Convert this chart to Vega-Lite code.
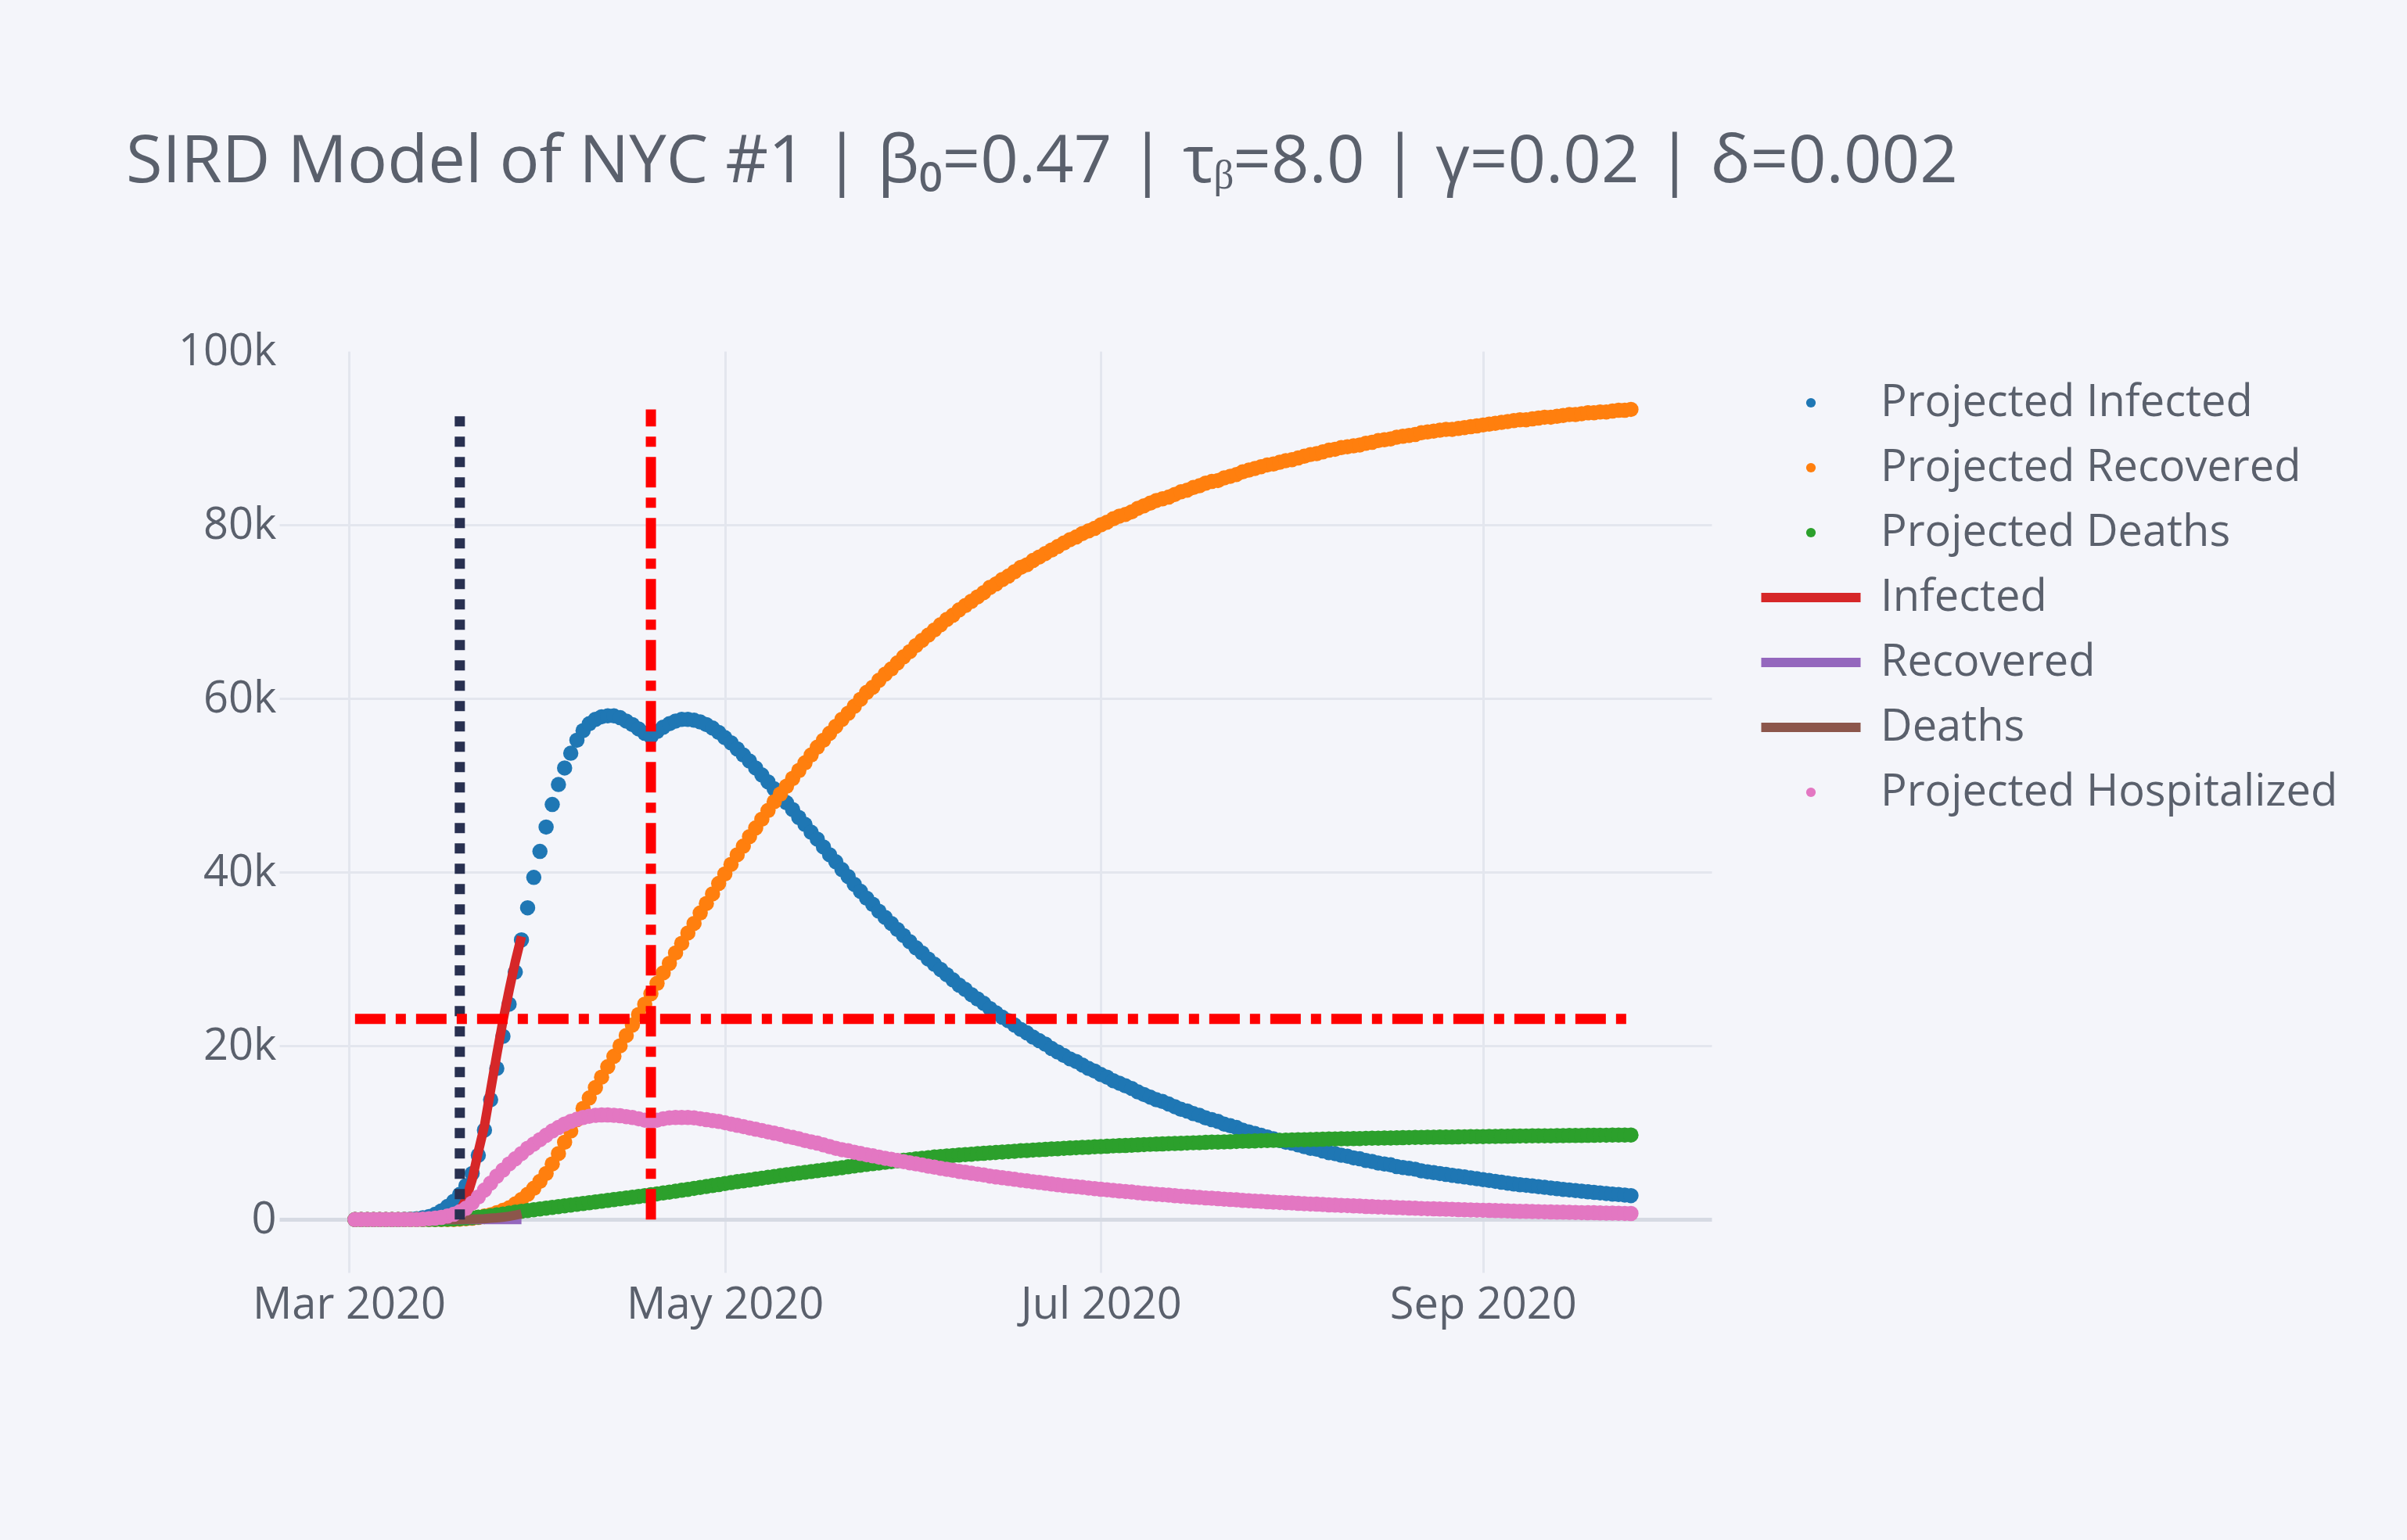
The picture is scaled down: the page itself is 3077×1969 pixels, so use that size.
{
"$schema":"https://vega.github.io/schema/vega-lite/v6.json",
"width":1831,"height":1178,
"autosize":{"type":"none"},
"padding":{"left":357,"top":449,"right":889,"bottom":342},
"background":"#f4f5fa",
"title":{"text":"SIRD Model of NYC #1 | β₀=0.47 | τᵦ=8.0 | γ=0.02 | δ=0.002","anchor":"start","frame":"group","dx":-196,"offset":103,"baseline":"alphabetic","font":"Open Sans","fontSize":85,"fontWeight":"normal","color":"#5a606c"},
"datasets":{"main":[
{"d":"2020-03-02","I":0,"R":0,"D":0,"H":0,"aI":0,"aR":0,"aD":0},
{"d":"2020-03-03","I":0,"R":0,"D":0,"H":0,"aI":0,"aR":0,"aD":0},
{"d":"2020-03-04","I":0,"R":0,"D":0,"H":0,"aI":0,"aR":0,"aD":0},
{"d":"2020-03-05","I":0,"R":0,"D":0,"H":0,"aI":0,"aR":0,"aD":0},
{"d":"2020-03-06","I":0,"R":0,"D":0,"H":0,"aI":0,"aR":0,"aD":0},
{"d":"2020-03-07","I":0,"R":0,"D":0,"H":0,"aI":0,"aR":0,"aD":0},
{"d":"2020-03-08","I":0,"R":0,"D":0,"H":0,"aI":0,"aR":0,"aD":0},
{"d":"2020-03-09","I":0,"R":0,"D":0,"H":0,"aI":0,"aR":0,"aD":0},
{"d":"2020-03-10","I":20,"R":0,"D":0,"H":0,"aI":10,"aR":0,"aD":0},
{"d":"2020-03-11","I":50,"R":0,"D":0,"H":0,"aI":30,"aR":0,"aD":0},
{"d":"2020-03-12","I":100,"R":0,"D":0,"H":0,"aI":50,"aR":0,"aD":0},
{"d":"2020-03-13","I":200,"R":0,"D":0,"H":50,"aI":100,"aR":0,"aD":0},
{"d":"2020-03-14","I":350,"R":0,"D":0,"H":100,"aI":150,"aR":0,"aD":0},
{"d":"2020-03-15","I":600,"R":0,"D":0,"H":150,"aI":250,"aR":0,"aD":0},
{"d":"2020-03-16","I":1000,"R":0,"D":20,"H":250,"aI":350,"aR":0,"aD":0},
{"d":"2020-03-17","I":1500,"R":0,"D":40,"H":400,"aI":500,"aR":0,"aD":0},
{"d":"2020-03-18","I":2100,"R":0,"D":60,"H":600,"aI":700,"aR":0,"aD":0},
{"d":"2020-03-19","I":2900,"R":50,"D":100,"H":900,"aI":1000,"aR":0,"aD":10},
{"d":"2020-03-20","I":3900,"R":100,"D":150,"H":1300,"aI":2300,"aR":0,"aD":30},
{"d":"2020-03-21","I":5300,"R":150,"D":200,"H":1900,"aI":4600,"aR":0,"aD":50},
{"d":"2020-03-22","I":7400,"R":250,"D":270,"H":2600,"aI":7800,"aR":0,"aD":80},
{"d":"2020-03-23","I":10300,"R":400,"D":350,"H":3400,"aI":10800,"aR":0,"aD":100},
{"d":"2020-03-24","I":13800,"R":550,"D":440,"H":4200,"aI":14900,"aR":0,"aD":150},
{"d":"2020-03-25","I":17400,"R":800,"D":540,"H":5000,"aI":19000,"aR":0,"aD":200},
{"d":"2020-03-26","I":21100,"R":1050,"D":640,"H":5700,"aI":22900,"aR":0,"aD":280},
{"d":"2020-03-27","I":24800,"R":1350,"D":740,"H":6400,"aI":26400,"aR":0,"aD":370},
{"d":"2020-03-28","I":28500,"R":1800,"D":850,"H":7000,"aI":29700,"aR":0,"aD":500},
{"d":"2020-03-29","I":32200,"R":2300,"D":950,"H":7600,"aI":32600,"aR":0,"aD":670},
{"d":"2020-03-30","I":35900,"R":2900,"D":1040,"H":8200},
{"d":"2020-03-31","I":39400,"R":3600,"D":1130,"H":8700},
{"d":"2020-04-01","I":42400,"R":4400,"D":1220,"H":9200},
{"d":"2020-04-02","I":45200,"R":5300,"D":1310,"H":9700},
{"d":"2020-04-03","I":47800,"R":6400,"D":1400,"H":10200},
{"d":"2020-04-04","I":50100,"R":7600,"D":1490,"H":10600},
{"d":"2020-04-05","I":52000,"R":8900,"D":1580,"H":11000},
{"d":"2020-04-06","I":53700,"R":10200,"D":1670,"H":11300},
{"d":"2020-04-07","I":55200,"R":11500,"D":1760,"H":11550},
{"d":"2020-04-08","I":56300,"R":12800,"D":1850,"H":11750},
{"d":"2020-04-09","I":57100,"R":14000,"D":1940,"H":11900},
{"d":"2020-04-10","I":57600,"R":15200,"D":2030,"H":12000},
{"d":"2020-04-11","I":57900,"R":16400,"D":2120,"H":12050},
{"d":"2020-04-12","I":58000,"R":17600,"D":2210,"H":12050},
{"d":"2020-04-13","I":58000,"R":18800,"D":2300,"H":12000},
{"d":"2020-04-14","I":57800,"R":20000,"D":2390,"H":11950},
{"d":"2020-04-15","I":57400,"R":21200,"D":2480,"H":11850},
{"d":"2020-04-16","I":57000,"R":22400,"D":2570,"H":11750},
{"d":"2020-04-17","I":56500,"R":23600,"D":2660,"H":11600},
{"d":"2020-04-18","I":56000,"R":24800,"D":2760,"H":11450},
{"d":"2020-04-19","I":55600,"R":26000,"D":2860,"H":11300},
{"d":"2020-04-20","I":56200,"R":27200,"D":2960,"H":11450},
{"d":"2020-04-21","I":56700,"R":28400,"D":3060,"H":11600},
{"d":"2020-04-22","I":57100,"R":29500,"D":3160,"H":11700},
{"d":"2020-04-23","I":57400,"R":30700,"D":3260,"H":11750},
{"d":"2020-04-24","I":57600,"R":31800,"D":3370,"H":11750},
{"d":"2020-04-25","I":57600,"R":33000,"D":3480,"H":11750},
{"d":"2020-04-26","I":57500,"R":34100,"D":3590,"H":11700},
{"d":"2020-04-27","I":57300,"R":35300,"D":3700,"H":11600},
{"d":"2020-04-28","I":57000,"R":36400,"D":3810,"H":11500},
{"d":"2020-04-29","I":56600,"R":37500,"D":3920,"H":11400},
{"d":"2020-04-30","I":56100,"R":38700,"D":4030,"H":11300},
{"d":"2020-05-01","I":55500,"R":39800,"D":4140,"H":11150},
{"d":"2020-05-02","I":54900,"R":40900,"D":4250,"H":11000},
{"d":"2020-05-03","I":54200,"R":42000,"D":4360,"H":10850},
{"d":"2020-05-04","I":53500,"R":43000,"D":4460,"H":10700},
{"d":"2020-05-05","I":52800,"R":44100,"D":4560,"H":10550},
{"d":"2020-05-06","I":52000,"R":45100,"D":4660,"H":10400},
{"d":"2020-05-07","I":51200,"R":46100,"D":4760,"H":10250},
{"d":"2020-05-08","I":50400,"R":47100,"D":4860,"H":10100},
{"d":"2020-05-09","I":49600,"R":48100,"D":4960,"H":9950},
{"d":"2020-05-10","I":48800,"R":49000,"D":5060,"H":9800},
{"d":"2020-05-11","I":48000,"R":49900,"D":5160,"H":9600},
{"d":"2020-05-12","I":47200,"R":50800,"D":5260,"H":9450},
{"d":"2020-05-13","I":46300,"R":51700,"D":5350,"H":9300},
{"d":"2020-05-14","I":45500,"R":52600,"D":5440,"H":9100},
{"d":"2020-05-15","I":44600,"R":53500,"D":5530,"H":8950},
{"d":"2020-05-16","I":43800,"R":54400,"D":5620,"H":8800},
{"d":"2020-05-17","I":42900,"R":55200,"D":5710,"H":8600},
{"d":"2020-05-18","I":42000,"R":56000,"D":5800,"H":8400},
{"d":"2020-05-19","I":41200,"R":56800,"D":5890,"H":8200},
{"d":"2020-05-20","I":40300,"R":57600,"D":5980,"H":8050},
{"d":"2020-05-21","I":39500,"R":58300,"D":6080,"H":7920},
{"d":"2020-05-22","I":38600,"R":59100,"D":6180,"H":7750},
{"d":"2020-05-23","I":37800,"R":59900,"D":6270,"H":7610},
{"d":"2020-05-24","I":37000,"R":60700,"D":6360,"H":7460},
{"d":"2020-05-25","I":36300,"R":61300,"D":6440,"H":7340},
{"d":"2020-05-26","I":35500,"R":62100,"D":6520,"H":7190},
{"d":"2020-05-27","I":34800,"R":62800,"D":6600,"H":7060},
{"d":"2020-05-28","I":34100,"R":63400,"D":6670,"H":6930},
{"d":"2020-05-29","I":33400,"R":64100,"D":6750,"H":6800},
{"d":"2020-05-30","I":32700,"R":64800,"D":6830,"H":6670},
{"d":"2020-05-31","I":32000,"R":65400,"D":6900,"H":6540},
{"d":"2020-06-01","I":31300,"R":66100,"D":6980,"H":6410},
{"d":"2020-06-02","I":30700,"R":66700,"D":7050,"H":6290},
{"d":"2020-06-03","I":30000,"R":67300,"D":7120,"H":6150},
{"d":"2020-06-04","I":29400,"R":67900,"D":7200,"H":6030},
{"d":"2020-06-05","I":28800,"R":68500,"D":7260,"H":5910},
{"d":"2020-06-06","I":28200,"R":69100,"D":7320,"H":5790},
{"d":"2020-06-07","I":27600,"R":69600,"D":7370,"H":5670},
{"d":"2020-06-08","I":27000,"R":70200,"D":7430,"H":5550},
{"d":"2020-06-09","I":26500,"R":70700,"D":7480,"H":5450},
{"d":"2020-06-10","I":25900,"R":71200,"D":7530,"H":5330},
{"d":"2020-06-11","I":25400,"R":71700,"D":7580,"H":5230},
{"d":"2020-06-12","I":24900,"R":72200,"D":7630,"H":5130},
{"d":"2020-06-13","I":24300,"R":72800,"D":7690,"H":5010},
{"d":"2020-06-14","I":23800,"R":73200,"D":7730,"H":4910},
{"d":"2020-06-15","I":23300,"R":73700,"D":7780,"H":4810},
{"d":"2020-06-16","I":22900,"R":74100,"D":7820,"H":4730},
{"d":"2020-06-17","I":22400,"R":74600,"D":7870,"H":4630},
{"d":"2020-06-18","I":21900,"R":75100,"D":7920,"H":4530},
{"d":"2020-06-19","I":21500,"R":75400,"D":7950,"H":4450},
{"d":"2020-06-20","I":21000,"R":75900,"D":8000,"H":4350},
{"d":"2020-06-21","I":20600,"R":76300,"D":8040,"H":4270},
{"d":"2020-06-22","I":20200,"R":76700,"D":8080,"H":4190},
{"d":"2020-06-23","I":19700,"R":77100,"D":8120,"H":4090},
{"d":"2020-06-24","I":19300,"R":77500,"D":8160,"H":4010},
{"d":"2020-06-25","I":18900,"R":77900,"D":8200,"H":3930},
{"d":"2020-06-26","I":18500,"R":78300,"D":8240,"H":3850},
{"d":"2020-06-27","I":18200,"R":78600,"D":8270,"H":3790},
{"d":"2020-06-28","I":17800,"R":79000,"D":8310,"H":3710},
{"d":"2020-06-29","I":17400,"R":79300,"D":8340,"H":3630},
{"d":"2020-06-30","I":17100,"R":79600,"D":8370,"H":3570},
{"d":"2020-07-01","I":16700,"R":80000,"D":8410,"H":3490},
{"d":"2020-07-02","I":16400,"R":80300,"D":8440,"H":3430},
{"d":"2020-07-03","I":16000,"R":80700,"D":8480,"H":3350},
{"d":"2020-07-04","I":15700,"R":81000,"D":8510,"H":3290},
{"d":"2020-07-05","I":15400,"R":81200,"D":8530,"H":3230},
{"d":"2020-07-06","I":15100,"R":81500,"D":8560,"H":3170},
{"d":"2020-07-07","I":14700,"R":81900,"D":8600,"H":3090},
{"d":"2020-07-08","I":14400,"R":82200,"D":8630,"H":3030},
{"d":"2020-07-09","I":14100,"R":82500,"D":8660,"H":2970},
{"d":"2020-07-10","I":13800,"R":82800,"D":8690,"H":2910},
{"d":"2020-07-11","I":13600,"R":83000,"D":8710,"H":2870},
{"d":"2020-07-12","I":13300,"R":83200,"D":8730,"H":2810},
{"d":"2020-07-13","I":13000,"R":83500,"D":8760,"H":2750},
{"d":"2020-07-14","I":12700,"R":83800,"D":8790,"H":2690},
{"d":"2020-07-15","I":12500,"R":84000,"D":8810,"H":2650},
{"d":"2020-07-16","I":12200,"R":84300,"D":8840,"H":2590},
{"d":"2020-07-17","I":12000,"R":84500,"D":8860,"H":2550},
{"d":"2020-07-18","I":11700,"R":84800,"D":8890,"H":2490},
{"d":"2020-07-19","I":11500,"R":85000,"D":8910,"H":2450},
{"d":"2020-07-20","I":11300,"R":85100,"D":8920,"H":2410},
{"d":"2020-07-21","I":11000,"R":85400,"D":8950,"H":2350},
{"d":"2020-07-22","I":10800,"R":85600,"D":8970,"H":2310},
{"d":"2020-07-23","I":10600,"R":85800,"D":8990,"H":2270},
{"d":"2020-07-24","I":10300,"R":86100,"D":9020,"H":2210},
{"d":"2020-07-25","I":10100,"R":86300,"D":9040,"H":2170},
{"d":"2020-07-26","I":9900,"R":86500,"D":9060,"H":2130},
{"d":"2020-07-27","I":9700,"R":86700,"D":9080,"H":2090},
{"d":"2020-07-28","I":9500,"R":86900,"D":9100,"H":2050},
{"d":"2020-07-29","I":9300,"R":87000,"D":9110,"H":2010},
{"d":"2020-07-30","I":9100,"R":87200,"D":9130,"H":1970},
{"d":"2020-07-31","I":8900,"R":87400,"D":9150,"H":1930},
{"d":"2020-08-01","I":8800,"R":87500,"D":9160,"H":1910},
{"d":"2020-08-02","I":8600,"R":87700,"D":9180,"H":1870},
{"d":"2020-08-03","I":8400,"R":87900,"D":9200,"H":1830},
{"d":"2020-08-04","I":8200,"R":88100,"D":9220,"H":1790},
{"d":"2020-08-05","I":8100,"R":88200,"D":9230,"H":1770},
{"d":"2020-08-06","I":7900,"R":88400,"D":9250,"H":1730},
{"d":"2020-08-07","I":7700,"R":88600,"D":9270,"H":1690},
{"d":"2020-08-08","I":7600,"R":88700,"D":9280,"H":1670},
{"d":"2020-08-09","I":7400,"R":88900,"D":9300,"H":1630},
{"d":"2020-08-10","I":7300,"R":89000,"D":9310,"H":1610},
{"d":"2020-08-11","I":7100,"R":89100,"D":9320,"H":1570},
{"d":"2020-08-12","I":7000,"R":89200,"D":9330,"H":1550},
{"d":"2020-08-13","I":6800,"R":89400,"D":9350,"H":1510},
{"d":"2020-08-14","I":6700,"R":89500,"D":9360,"H":1490},
{"d":"2020-08-15","I":6500,"R":89700,"D":9380,"H":1450},
{"d":"2020-08-16","I":6400,"R":89800,"D":9390,"H":1430},
{"d":"2020-08-17","I":6300,"R":89900,"D":9400,"H":1410},
{"d":"2020-08-18","I":6100,"R":90100,"D":9420,"H":1370},
{"d":"2020-08-19","I":6000,"R":90200,"D":9430,"H":1350},
{"d":"2020-08-20","I":5900,"R":90300,"D":9440,"H":1330},
{"d":"2020-08-21","I":5800,"R":90400,"D":9450,"H":1310},
{"d":"2020-08-22","I":5600,"R":90600,"D":9470,"H":1270},
{"d":"2020-08-23","I":5500,"R":90700,"D":9480,"H":1250},
{"d":"2020-08-24","I":5400,"R":90800,"D":9490,"H":1230},
{"d":"2020-08-25","I":5300,"R":90900,"D":9500,"H":1210},
{"d":"2020-08-26","I":5200,"R":91000,"D":9500,"H":1190},
{"d":"2020-08-27","I":5100,"R":91000,"D":9510,"H":1170},
{"d":"2020-08-28","I":5000,"R":91100,"D":9520,"H":1150},
{"d":"2020-08-29","I":4900,"R":91200,"D":9530,"H":1130},
{"d":"2020-08-30","I":4800,"R":91300,"D":9540,"H":1110},
{"d":"2020-08-31","I":4700,"R":91400,"D":9550,"H":1090},
{"d":"2020-09-01","I":4600,"R":91500,"D":9560,"H":1070},
{"d":"2020-09-02","I":4500,"R":91600,"D":9570,"H":1050},
{"d":"2020-09-03","I":4400,"R":91700,"D":9580,"H":1030},
{"d":"2020-09-04","I":4300,"R":91800,"D":9590,"H":1010},
{"d":"2020-09-05","I":4200,"R":91900,"D":9600,"H":990},
{"d":"2020-09-06","I":4100,"R":92000,"D":9610,"H":970},
{"d":"2020-09-07","I":4000,"R":92100,"D":9620,"H":950},
{"d":"2020-09-08","I":3950,"R":92100,"D":9620,"H":940},
{"d":"2020-09-09","I":3870,"R":92200,"D":9630,"H":920},
{"d":"2020-09-10","I":3790,"R":92300,"D":9640,"H":910},
{"d":"2020-09-11","I":3710,"R":92400,"D":9650,"H":890},
{"d":"2020-09-12","I":3630,"R":92400,"D":9650,"H":880},
{"d":"2020-09-13","I":3560,"R":92500,"D":9660,"H":860},
{"d":"2020-09-14","I":3480,"R":92600,"D":9670,"H":850},
{"d":"2020-09-15","I":3410,"R":92700,"D":9680,"H":830},
{"d":"2020-09-16","I":3340,"R":92700,"D":9680,"H":820},
{"d":"2020-09-17","I":3270,"R":92800,"D":9690,"H":800},
{"d":"2020-09-18","I":3200,"R":92900,"D":9700,"H":790},
{"d":"2020-09-19","I":3130,"R":92900,"D":9700,"H":780},
{"d":"2020-09-20","I":3070,"R":93000,"D":9710,"H":760},
{"d":"2020-09-21","I":3000,"R":93000,"D":9710,"H":750},
{"d":"2020-09-22","I":2940,"R":93100,"D":9720,"H":740},
{"d":"2020-09-23","I":2880,"R":93200,"D":9730,"H":730},
{"d":"2020-09-24","I":2820,"R":93200,"D":9730,"H":710},
{"d":"2020-09-25","I":2760,"R":93300,"D":9740,"H":700}
]},
"encoding":{"x":{"field":"d","type":"temporal","title":null,
 "scale":{"type":"utc","domain":[{"year":2020,"month":2,"date":18,"hours":17,"utc":true},{"year":2020,"month":10,"date":8,"hours":2,"utc":true}]},
 "axis":{"values":[{"year":2020,"month":3,"date":1,"utc":true},{"year":2020,"month":5,"date":1,"utc":true},{"year":2020,"month":7,"date":1,"utc":true},{"year":2020,"month":9,"date":1,"utc":true}],"format":"%b %Y","labelPadding":14,"labelFlush":false,"labelOverlap":false,"labelLimit":1000,"grid":true}}},
"layer":[
 {"data":{"name":"main"},"mark":{"type":"point","filled":true,"size":380,"opacity":1,"strokeWidth":0},
  "encoding":{"y":{"field":"I","type":"quantitative","title":null,"scale":{"domain":[-6100,100000],"nice":false,"zero":false},
    "axis":{"values":[0,20000,40000,60000,80000,100000],"labelExpr":"datum.value === 0 ? '0' : (datum.value / 1000) + 'k'","labelPadding":4,"labelLimit":1000,
      "gridColor":{"condition":{"test":"datum.value === 0","value":"#d6dae3"},"value":"#e3e6ee"},
      "gridWidth":{"condition":{"test":"datum.value === 0","value":5},"value":3},
      "gridOpacity":{"condition":{"test":"datum.value === 100000","value":0},"value":1}}},
   "color":{"datum":"Projected Infected","type":"nominal",
    "scale":{"domain":["Projected Infected","Projected Recovered","Projected Deaths"],"range":["#1f77b4","#ff7f0e","#2ca02c"]},
    "legend":{"orient":"none","legendX":1930,"legendY":38,"title":null,"padding":0,"labelFont":"Open Sans","labelFontSize":56,"labelColor":"#5a606c","labelLimit":2000,"labelOffset":61,"rowPadding":27,"symbolType":"circle","symbolSize":150,"symbolStrokeWidth":0,"symbolOpacity":1}}}},
 {"data":{"name":"main"},"mark":{"type":"point","filled":true,"size":380,"opacity":1,"strokeWidth":0},
  "encoding":{"y":{"field":"R","type":"quantitative","title":null,"scale":{"domain":[-6100,100000],"nice":false,"zero":false}},
   "color":{"datum":"Projected Recovered","type":"nominal"}}},
 {"data":{"name":"main"},"mark":{"type":"point","filled":true,"size":380,"opacity":1,"strokeWidth":0},
  "encoding":{"y":{"field":"D","type":"quantitative","title":null,"scale":{"domain":[-6100,100000],"nice":false,"zero":false}},
   "color":{"datum":"Projected Deaths","type":"nominal"}}},
 {"data":{"name":"main"},"mark":{"type":"line","strokeWidth":12},
  "encoding":{"y":{"field":"aI","type":"quantitative","title":null,"scale":{"domain":[-6100,100000],"nice":false,"zero":false}},
   "stroke":{"datum":"Infected","type":"nominal",
    "scale":{"domain":["Infected","Recovered","Deaths"],"range":["#d62728","#9467bd","#8c564b"]},
    "legend":{"orient":"none","legendX":1930,"legendY":287,"title":null,"padding":0,"labelFont":"Open Sans","labelFontSize":56,"labelColor":"#5a606c","labelLimit":2000,"labelOffset":61,"rowPadding":27,"symbolType":"M-4,0H4","symbolSize":1008,"symbolStrokeWidth":12,"symbolOpacity":1}}}},
 {"data":{"name":"main"},"mark":{"type":"line","strokeWidth":12},
  "encoding":{"y":{"field":"aR","type":"quantitative","title":null,"scale":{"domain":[-6100,100000],"nice":false,"zero":false}},
   "stroke":{"datum":"Recovered","type":"nominal"}}},
 {"data":{"name":"main"},"mark":{"type":"line","strokeWidth":12},
  "encoding":{"y":{"field":"aD","type":"quantitative","title":null,"scale":{"domain":[-6100,100000],"nice":false,"zero":false}},
   "stroke":{"datum":"Deaths","type":"nominal"}}},
 {"data":{"name":"main"},"mark":{"type":"point","filled":true,"size":380,"opacity":1,"strokeWidth":0},
  "encoding":{"y":{"field":"H","type":"quantitative","title":null,"scale":{"domain":[-6100,100000],"nice":false,"zero":false}},
   "fill":{"datum":"Projected Hospitalized","type":"nominal",
    "scale":{"domain":["Projected Hospitalized"],"range":["#e377c2"]},
    "legend":{"orient":"none","legendX":1930,"legendY":536,"title":null,"padding":0,"labelFont":"Open Sans","labelFontSize":56,"labelColor":"#5a606c","labelLimit":2000,"labelOffset":61,"rowPadding":27,"symbolType":"circle","symbolSize":150,"symbolStrokeWidth":0,"symbolOpacity":1}}}},
 {"data":{"values":[{"d":"2020-03-19","lo":0,"hi":93300}]},"mark":{"type":"rule","color":"#283050","strokeWidth":13,"strokeDash":[13,13]},
  "encoding":{"y":{"field":"lo","type":"quantitative","title":null,"scale":{"domain":[-6100,100000],"nice":false,"zero":false}},"y2":{"field":"hi"}}},
 {"data":{"values":[{"d":"2020-04-19","lo":0,"hi":93300}]},"mark":{"type":"rule","color":"#ff0000","strokeWidth":13,"strokeDash":[39,13,13,13]},
  "encoding":{"y":{"field":"lo","type":"quantitative","title":null,"scale":{"domain":[-6100,100000],"nice":false,"zero":false}},"y2":{"field":"hi"}}},
 {"data":{"values":[{"d":"2020-03-02","d2":"2020-09-25","v":23100}]},"mark":{"type":"rule","color":"#ff0000","strokeWidth":13,"strokeDash":[39,13,13,13]},
  "encoding":{"x2":{"field":"d2"},"y":{"field":"v","type":"quantitative","title":null,"scale":{"domain":[-6100,100000],"nice":false,"zero":false}}}}
],
"config":{"view":{"stroke":null},"font":"Open Sans",
 "axis":{"domain":false,"ticks":false,"labelFont":"Open Sans","labelFontSize":56,"labelColor":"#5a606c","gridColor":"#e3e6ee","gridWidth":3,"labelLimit":1000}}
}
